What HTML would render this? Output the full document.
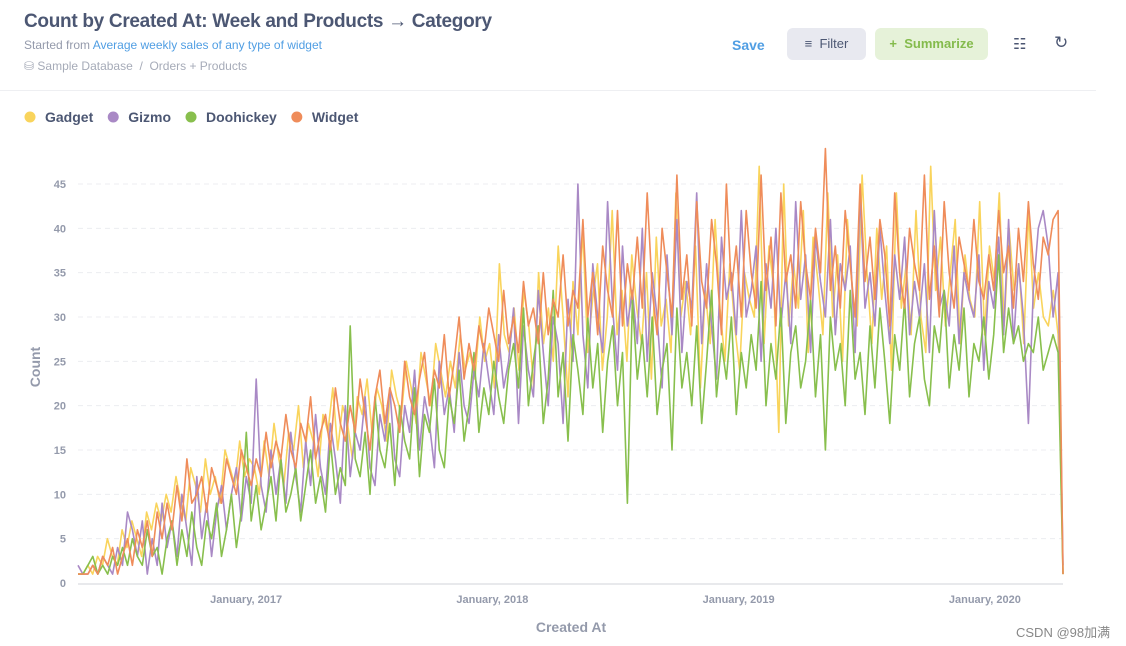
<!DOCTYPE html>
<html><head><meta charset="utf-8">
<style>
body{margin:0;width:1126px;height:646px;background:#fff;font-family:"Liberation Sans","Noto Sans CJK SC",sans-serif;overflow:hidden;position:relative}
.abs{position:absolute}
</style></head><body>
<div class="abs" style="left:24px;top:11px;font-size:19px;font-weight:bold;color:#4c5773;letter-spacing:-0.3px">Count by Created At: Week and Products → Category</div>
<div class="abs" style="left:24px;top:38px;font-size:12px;color:#949aab">Started from <span style="color:#509ee3">Average weekly sales of any type of widget</span></div>
<div class="abs" style="left:24px;top:59px;font-size:12px;color:#a6abb8">⛁ Sample Database &nbsp;/&nbsp; Orders + Products</div>
<div class="abs" style="left:732px;top:37px;font-size:14px;font-weight:bold;color:#509ee3">Save</div>
<div class="abs" style="left:787px;top:28px;width:79px;height:32px;background:#e8e9f0;border-radius:6px;font-size:13px;color:#4c5773;line-height:32px;text-align:center">≡&nbsp; Filter</div>
<div class="abs" style="left:875px;top:28px;width:113px;height:32px;background:#e6f2d9;border-radius:6px;font-size:13px;color:#84bb4c;line-height:32px;text-align:center;font-weight:bold">+&nbsp; Summarize</div>
<div class="abs" style="left:1013px;top:35px;font-size:15px;color:#4c5773">☷</div>
<div class="abs" style="left:1054px;top:33px;font-size:17px;color:#4c5773">↻</div>
<div class="abs" style="left:0;top:90px;width:1096px;height:1px;background:#eeeff2"></div>
<svg class="abs" style="left:0;top:0" width="1126" height="646" id="chart"></svg>
<div class="abs" style="left:1016px;top:622px;font-size:13px;color:#888">CSDN @98加满</div>
<script>
const seriesNames=["Gadget","Gizmo","Doohickey","Widget"];
const seriesColors=["#f9d45c","#a989c5","#88bf4d","#ef8c5a"];
const yTicks=[0,5,10,15,20,25,30,35,40,45];
const xTickLabels=["January, 2017","January, 2018","January, 2019","January, 2020"];
const xTickWeeks=[35.5,87.5,139.5,191.5];
const totalWeeks=208;
const gadget=[1,1,2,1,3,2,5,3,2,6,4,7,5,3,8,6,9,7,10,8,12,9,7,13,11,8,14,10,12,9,15,13,11,16,12,14,
13,10,16,12,18,14,11,17,15,20,13,18,16,12,19,17,22,15,20,18,14,21,19,23,17,22,20,16,24,21,19,25,22,18,26,23,20,27,24,21,25,22,28,24,26,23,30,25,27,22,36,28,
26,31,24,33,29,22,35,27,31,25,38,30,21,34,28,40,26,32,36,24,30,42,28,33,25,37,31,27,35,23,39,29,32,26,44,30,34,28,38,22,33,27,41,31,25,36,29,24,35,32,
30,47,27,38,33,17,45,29,36,31,42,26,39,34,28,44,30,37,25,41,33,29,46,35,27,40,32,38,24,44,31,36,28,42,30,26,47,33,39,29,35,41,27,37,32,30,43,28,
38,34,44,29,40,33,36,27,42,31,35,30,29,33,28,1];
const gizmo=[2,1,1,2,1,3,2,1,4,2,8,6,3,7,1,5,2,9,4,7,3,10,6,2,12,5,9,3,8,11,6,10,13,7,12,9,
23,11,8,15,10,14,9,17,12,8,16,11,19,13,10,18,14,9,20,12,17,15,21,13,11,19,16,22,14,12,20,17,24,15,21,18,13,25,19,22,17,26,20,18,24,21,27,23,19,28,22,25,
31,18,29,24,21,33,26,20,30,27,18,32,25,45,28,22,36,30,26,43,31,24,38,29,33,27,40,25,35,30,22,37,28,41,26,34,31,44,27,36,29,23,39,32,35,28,42,30,
33,38,25,36,31,40,29,35,27,43,32,37,26,39,34,30,41,28,36,33,38,26,44,31,35,29,40,33,27,37,32,39,28,34,30,36,26,42,31,33,29,38,27,35,32,30,37,24,
34,31,39,28,41,27,36,30,18,33,40,42,38,30,35,2];
const doohickey=[1,1,2,3,1,2,1,3,2,4,2,5,3,2,6,3,4,1,5,7,2,6,3,8,4,2,7,5,9,3,6,10,4,8,17,7,
11,6,9,12,7,14,8,10,13,7,11,15,9,12,8,16,10,13,11,29,14,12,17,10,21,15,13,18,11,20,16,14,22,12,19,17,23,15,13,21,18,24,16,20,26,17,22,19,25,21,18,24,
27,22,31,20,25,29,18,23,33,21,26,16,28,24,19,30,22,27,17,25,29,20,26,9,32,23,28,21,30,19,24,27,15,31,22,26,20,29,18,25,33,21,27,23,30,19,26,22,
28,24,34,20,27,23,31,18,26,29,22,25,32,21,28,15,30,24,27,20,33,23,26,19,29,22,31,25,18,28,24,32,21,27,30,23,20,29,26,33,22,28,24,31,21,27,25,30,
23,28,37,26,31,27,29,25,27,26,30,24,26,28,26,1];
const widget=[1,1,1,2,1,3,2,4,1,3,5,2,6,4,7,3,8,5,9,6,11,7,14,9,10,12,8,13,11,9,14,12,10,15,13,11,
14,12,17,13,16,14,19,15,13,18,16,21,14,17,19,15,22,18,16,20,17,23,19,15,21,24,18,22,20,17,25,21,19,23,26,20,24,22,28,21,25,30,23,27,24,29,26,31,28,25,33,27,
30,26,34,29,31,27,35,28,32,30,37,29,33,31,41,30,35,28,38,33,30,42,29,36,32,39,31,44,33,28,40,35,30,46,32,37,29,43,34,31,41,36,28,45,33,38,30,42,
35,31,46,33,39,29,44,34,37,31,43,36,32,40,35,49,33,38,31,42,36,30,45,34,39,32,41,37,29,44,35,31,40,36,33,46,32,38,30,43,35,31,39,36,33,41,34,32,
37,33,42,35,38,31,40,34,43,36,32,39,37,41,42,1];
const seriesData=[gadget,gizmo,doohickey,widget];
const svg=document.getElementById('chart');const NS="http://www.w3.org/2000/svg";
const X0=78,X1=1063,Y0=583,Y45=184;
const y=v=>Y0-(v/45)*(Y0-Y45);
const xw=w=>X0+(X1-X0)*w/totalWeeks;
const x=(i,n)=>xw(i*totalWeeks/(n-1));
function mk(t,a){const e=document.createElementNS(NS,t);for(const k in a)e.setAttribute(k,a[k]);svg.appendChild(e);return e;}
yTicks.forEach(v=>{
 if(v>0){const g=mk('line',{x1:X0,x2:X1,y1:y(v),y2:y(v),stroke:'#ecedf0','stroke-dasharray':'5,4'});
 
 }
 const t=mk('text',{x:66,y:y(v)+4,'text-anchor':'end','font-size':11,'font-weight':'bold',fill:'#949aab'});t.textContent=v;
 
 
});
const ax=mk('line',{x1:X0,x2:X1,y1:Y0+1,y2:Y0+1,stroke:'#d0d3da'});


xTickLabels.forEach((l,i)=>{
 const t=mk('text',{x:xw(xTickWeeks[i]),y:603,'text-anchor':'middle','font-size':11,'font-weight':'bold',fill:'#949aab'});t.textContent=l;
 
 
});
const xt=mk('text',{x:571,y:632,'text-anchor':'middle','font-size':14,'font-weight':'bold',fill:'#949aab'});xt.textContent='Created At';


const yt=mk('text',{x:40,y:367,'text-anchor':'middle','font-size':14,'font-weight':'bold',fill:'#949aab',transform:'rotate(-90 40 367)'});yt.textContent='Count';


seriesData.forEach((d,s)=>{
 const pts=d.map((v,i)=>x(i,d.length).toFixed(1)+','+y(v).toFixed(1)).join(' ');
 const p=mk('polyline',{points:pts,fill:'none',stroke:seriesColors[s],'stroke-width':1.6,'stroke-linejoin':'round'});
 
 
});
let lx=24;
seriesNames.forEach((n,s)=>{
 const c=mk('circle',{cx:lx+6,cy:117,r:5.5,fill:seriesColors[s]});
 
 
 const t=mk('text',{x:lx+21,y:122,'font-size':14,'font-weight':'bold',fill:'#4c5773'});t.textContent=n;
 
 
 lx+=21+t.getComputedTextLength()+14;
});
</script>
</body></html>
